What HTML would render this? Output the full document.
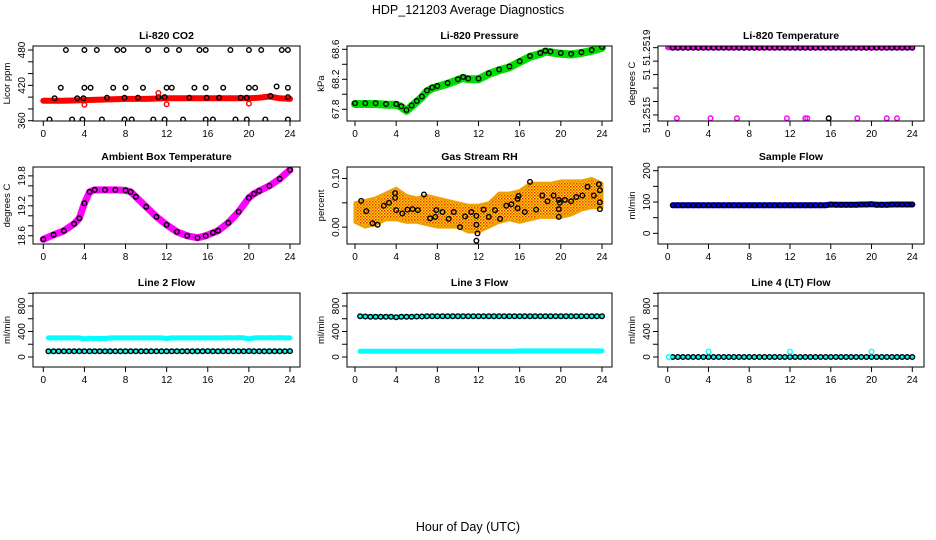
<!DOCTYPE html>
<html><head><meta charset="utf-8"><style>
html,body{margin:0;padding:0;background:#fff;}
svg{display:block;font-family:"Liberation Sans",sans-serif;}
</style></head><body>
<svg id="chart" width="936" height="540" viewBox="0 0 936 540" xmlns="http://www.w3.org/2000/svg">
<defs>
<pattern id="rhpat" width="3" height="3" patternUnits="userSpaceOnUse">
<rect width="3" height="3" fill="#ffd800"/><rect width="1.5" height="1.5" fill="#e83010"/><rect x="1.5" y="1.5" width="1.5" height="1.5" fill="#f07010"/>
</pattern>
</defs>
<text x="468" y="14" text-anchor="middle" font-size="12.5">HDP_121203  Average Diagnostics</text>
<text x="468" y="531" text-anchor="middle" font-size="12.5">Hour of Day (UTC)</text>
</svg>
<script>
// ---- data ----
var hourTicks = [0,4,8,12,16,20,24];
var halfHours = [0.5,1,1.5,2,2.5,3,3.5,4,4.5,5,5.5,6,6.5,7,7.5,8,8.5,9,9.5,10,10.5,11,11.5,12,12.5,13,13.5,14,14.5,15,15.5,16,16.5,17,17.5,18,18.5,19,19.5,20,20.5,21,21.5,22,22.5,23,23.5,24];

var co2LineX = [0,2,4,6,8,10,12,14,16,18,20,21,22,23,24];
var co2LineY = [394,394,395,396,397,397,398,398,398,398,398,399,401,398,397];
var co2BlackX = [2.2,4,5.2,7.2,7.8,10.2,12,13.2,15.2,15.8,18.2,20,21.2,23.2,23.8, 1.7,4,4.6,6.8,8,9.7,12,12.5,14.7,15.8,17.5,20,20.6,22.7,23.8, 1.1,3.3,3.9,6.2,7.9,9.2,11.2,11.8,14.2,15.9,17.1,19.2,19.8,22.1,23.8, 0.6,2.8,3.8,5.7,7.9,8.6,10.7,11.8,13.6,15.8,16.5,18.7,19.8,21.6,23.8];
var co2BlackY = [480,480,480,480,480,480,480,480,480,480,480,480,480,480,480, 416,416,416,416,416,416,416,416,416,416,416,416,416,418,416, 398,398,398,399,399,399,400,400,399,399,399,399,399,402,400, 362,362,362,362,362,362,362,362,362,362,362,362,362,362,362];
var co2RedX = [4,11.2,12,20];
var co2RedY = [387,407,388,389];

var presX = [0,1,2,3,4,4.5,5,5.5,6,6.5,7,7.5,8,9,10,10.5,11,12,13,14,15,16,17,18,18.5,19,20,21,22,23,24];
var presY = [67.87,67.87,67.87,67.86,67.86,67.83,67.78,67.84,67.9,67.96,68.04,68.08,68.1,68.14,68.19,68.22,68.2,68.2,68.27,68.32,68.36,68.43,68.5,68.54,68.57,68.56,68.54,68.53,68.55,68.58,68.62];

var tempTopY = [51.2519,51.2519,51.2519,51.2519,51.2519,51.2519,51.2519,51.2519,51.2519,51.2519,51.2519,51.2519,51.2519,51.2519,51.2519,51.2519,51.2519,51.2519,51.2519,51.2519,51.2519,51.2519,51.2519,51.2519,51.2519,51.2519,51.2519,51.2519,51.2519,51.2519,51.2519,51.2519,51.2519,51.2519,51.2519,51.2519,51.2519,51.2519,51.2519,51.2519,51.2519,51.2519,51.2519,51.2519,51.2519,51.2519,51.2519,51.2519];
var tempLowMagX = [0.9,4.2,6.8,11.7,13.5,13.7,18.6,21.5,22.5];
var tempLowBlackX = [15.8];
var tempLowVal = 51.25148;

var ambX = [0,1,2,3,3.5,4,4.5,5,6,7,8,8.5,9,10,11,12,13,14,15,15.8,16.5,17,18,19,20,20.5,21,22,23,24];
var ambY = [18.53,18.62,18.7,18.84,18.95,19.25,19.48,19.52,19.52,19.52,19.51,19.48,19.38,19.18,18.98,18.82,18.68,18.6,18.56,18.6,18.66,18.7,18.86,19.08,19.36,19.44,19.5,19.6,19.74,19.92];

var rhBandX = [0,1,2,3,4,5,6,7,8,9,10,11,12,13,14,15,16,17,18,19,20,21,22,23,24];
var rhUpper = [0.05,0.055,0.06,0.07,0.08,0.065,0.06,0.065,0.06,0.055,0.05,0.045,0.045,0.05,0.07,0.07,0.075,0.09,0.09,0.09,0.095,0.095,0.095,0.1,0.09];
var rhLower = [0.01,0.0,0.005,0.015,0.015,0.01,0.01,0.005,0.0,0.0,0.0,-0.01,-0.01,0.0,0.01,0.015,0.01,0.015,0.02,0.02,0.02,0.025,0.035,0.04,0.04];
var rhBlackX = [0.6,1.1,1.7,2.2,2.8,3.3,3.9,3.9,4,4.6,5.1,5.6,6.1,6.7,7.3,7.8,7.9,8.5,9.1,9.6,10.2,10.7,11.3,11.8,11.8,11.9,11.8,12.5,13,13.6,14.1,14.7,15.2,15.8,15.9,15.8,16.5,17,17.6,18.2,18.7,19.3,19.8,19.9,19.8,19.8,20.4,21,21.5,22.1,22.6,23.2,23.7,23.8,23.8,23.8];
var rhBlackY = [0.054,0.033,0.008,0.005,0.044,0.05,0.07,0.06,0.035,0.028,0.036,0.037,0.035,0.067,0.018,0.021,0.035,0.031,0.017,0.031,0.0,0.022,0.031,0.005,0.023,-0.013,-0.028,0.036,0.021,0.035,0.017,0.044,0.047,0.058,0.064,0.039,0.031,0.093,0.036,0.065,0.053,0.065,0.056,0.05,0.037,0.021,0.056,0.053,0.062,0.065,0.083,0.065,0.088,0.076,0.051,0.037];

var sampleY = [90,90,90,90,90,90,90,90,90,90,90,90,90,90,90,90,90,90,90,90,90,90,90,90,90,90,90,90,90,90,90,92,91,91,91,91,91,92,92,93,91,91,91,92,92,92,92,92];
var line2Hi = [300,300,300,300,300,300,300,285,295,290,290,292,300,300,300,300,300,300,300,300,300,300,300,290,300,300,300,300,300,300,300,300,300,300,300,305,300,305,300,285,300,305,300,305,300,305,300,300];
var line2Lo = [90,90,90,90,90,90,90,90,90,90,90,90,90,90,90,90,90,90,90,90,90,90,90,90,90,90,90,90,90,90,90,92,90,90,90,90,90,90,90,92,90,90,90,90,90,90,90,92];
var line3Hi = [640,635,630,630,630,630,630,625,630,630,630,635,635,640,640,640,640,640,640,640,640,640,640,640,640,640,640,640,640,640,640,640,640,640,640,640,640,640,640,640,640,640,640,640,640,640,640,640];
var line3Lo = [90,90,90,90,90,90,90,90,90,90,90,90,90,90,90,90,90,90,90,90,90,90,90,90,90,90,90,90,90,90,90,95,95,95,95,95,95,95,95,95,95,95,95,95,95,95,95,95];
var line4Y = [0,0,0,0,0,0,0,0,0,0,0,0,0,0,0,0,0,0,0,0,0,0,0,0,0,0,0,0,0,0,0,0,0,0,0,0,0,0,0,0,0,0,0,0,0,0,0,0];
var line4CyanX = [4,12,20];
var line4CyanY = [85,85,85];

// ---- drawing ----
var NS = "http://www.w3.org/2000/svg";
var svg = document.getElementById('chart');
function mk(tag, attrs, parent) {
  var e = document.createElementNS(NS, tag);
  for (var k in attrs) e.setAttribute(k, attrs[k]);
  (parent || svg).appendChild(e);
  return e;
}
var cols = [{L:33,R:300,x0:43.3,x24:290},{L:347,R:612,x0:355,x24:602},{L:658,R:924,x0:667.7,x24:912.3}];
var rows = [{T:46,B:121},{T:167,B:244},{T:293,B:367}];

function panel(name, c, r, title, ytitle, ymin, ymax, ticks, labels) {
  var C = cols[c], R = rows[r];
  var g = mk('g', {});
  
  
  var p = {g:g,
    x: function(h){ return C.x0 + (C.x24 - C.x0) * h / 24; },
    y: function(v){ return R.B - (R.B - R.T) * (v - ymin) / (ymax - ymin); }};
  var t = mk('text', {x:(C.L+C.R)/2, y:R.T-7, 'text-anchor':'middle', 'font-size':'10.5', 'font-weight':'bold'}, g);
  t.textContent = title;
  
  
  var yt = mk('text', {x:0, y:0, 'text-anchor':'middle', 'font-size':'9.5', transform:'translate(' + (C.L-23) + ',' + ((R.T+R.B)/2) + ') rotate(-90)'}, g);
  yt.textContent = ytitle;
  
  
  var ax = mk('g', {stroke:'#000', 'stroke-width':'1'}, g);
  
  
  mk('line', {x1:p.x(0), x2:p.x(24), y1:R.B, y2:R.B}, ax);
  hourTicks.forEach(function(h){
    mk('line', {x1:p.x(h), x2:p.x(h), y1:R.B, y2:R.B+5}, ax);
    var l = mk('text', {x:p.x(h), y:R.B+16, 'text-anchor':'middle', 'font-size':'10', stroke:'none'}, ax);
    l.textContent = h;
  });
  var ay = mk('g', {stroke:'#000', 'stroke-width':'1'}, g);
  
  
  ticks.forEach(function(v, i){
    var yy = p.y(v);
    mk('line', {x1:C.L-5, x2:C.L, y1:yy, y2:yy}, ay);
    if (labels[i]) {
      var l = mk('text', {x:0, y:0, 'text-anchor':'middle', 'font-size':'10', stroke:'none', transform:'translate(' + (C.L-8) + ',' + yy + ') rotate(-90)'}, ay);
      l.textContent = labels[i];
    }
  });
  p.marks = mk('g', {}, g);
  
  
  p.finish = function(){
    var b = mk('rect', {x:C.L, y:R.T, width:C.R-C.L, height:R.B-R.T, fill:'none', stroke:'#000', 'stroke-width':'1'}, g);
    
    
  };
  var cp = mk('clipPath', {id:'clip' + name}, g);
  mk('rect', {x:C.L, y:R.T, width:C.R-C.L, height:R.B-R.T}, cp);
  p.marks.setAttribute('clip-path', 'url(#clip' + name + ')');
  return p;
}
function line(p, xs, ys, color, w, nm) {
  var d = xs.map(function(x, i){ return (i ? 'L' : 'M') + p.x(x).toFixed(1) + ',' + p.y(ys[i]).toFixed(1); }).join('');
  var e = mk('path', {d:d, fill:'none', stroke:color, 'stroke-width':w, 'stroke-linejoin':'round', 'stroke-linecap':'round'}, p.marks);
  
  
}
function pts(p, xs, ys, color, nm, r, sw) {
  var g = mk('g', {fill:'none', stroke:color, 'stroke-width':sw || 1.4}, p.marks);
  
  
  xs.forEach(function(x, i){ mk('circle', {cx:p.x(x).toFixed(1), cy:p.y(ys[i]).toFixed(1), r:r || 2.3}, g); });
}

// CO2
var p1 = panel('co2-panel', 0, 0, 'Li-820 CO2', 'Licor ppm', 359.5, 486.8, [360,380,400,420,440,460,480], ['360','','','420','','','480']);
line(p1, co2LineX, co2LineY, '#ff0000', 6, 'co2-red-series');
pts(p1, co2BlackX, co2BlackY, '#000', 'co2-black-points');
pts(p1, co2RedX, co2RedY, '#ff0000', 'co2-red-points');
p1.finish();

// Pressure
var p2 = panel('pressure-panel', 1, 0, 'Li-820 Pressure', 'kPa', 67.643, 68.644, [67.8,68.0,68.2,68.4,68.6], ['67.8','','68.2','','68.6']);
line(p2, presX, presY, '#00dd00', 8, 'pressure-green-series');
pts(p2, presX, presY.map(function(v){return v+0.01;}), '#000', 'pressure-black-points');
p2.finish();

// Li-820 temperature
var p3 = panel('li820-temp-panel', 2, 0, 'Li-820 Temperature', 'degrees C', 51.251464, 51.25191, [51.2519,51.25182,51.25174,51.25166,51.25158,51.2515], ['51.2519','','51','','','51.2515']);
line(p3, [0,24], [51.2519,51.2519], '#ff00ff', 5, 'li820-temp-magenta-series');
pts(p3, halfHours, tempTopY, '#000', 'li820-temp-black-points');
pts(p3, tempLowMagX, tempLowMagX.map(function(){return tempLowVal;}), '#ff00ff', 'li820-temp-magenta-points');
pts(p3, tempLowBlackX, tempLowBlackX.map(function(){return tempLowVal;}), '#000', 'li820-temp-low-black-points');
p3.finish();

// Ambient
var p4 = panel('ambient-temp-panel', 0, 1, 'Ambient Box Temperature', 'degrees C', 18.435, 19.978, [18.6,18.8,19.0,19.2,19.4,19.6,19.8], ['18.6','','','19.2','','','19.8']);
line(p4, ambX, ambY, '#ff00ff', 7, 'ambient-magenta-series');
pts(p4, ambX, ambY, '#000', 'ambient-black-points');
p4.finish();

// RH
var p5 = panel('rh-panel', 1, 1, 'Gas Stream RH', 'percent', -0.0347, 0.1236, [0,0.05,0.10], ['0.00','','0.10']);
(function(){
  var d = rhBandX.map(function(x, i){ return (i ? 'L' : 'M') + p5.x(x).toFixed(1) + ',' + p5.y(rhUpper[i]).toFixed(1); }).join('');
  for (var i = rhBandX.length - 1; i >= 0; i--) d += 'L' + p5.x(rhBandX[i]).toFixed(1) + ',' + p5.y(rhLower[i]).toFixed(1);
  var e = mk('path', {d:d + 'Z', fill:'url(#rhpat)', stroke:'#f0a000', 'stroke-width':'3', 'stroke-linejoin':'round'}, p5.marks);
  
  
})();
pts(p5, rhBlackX, rhBlackY, '#000', 'rh-black-points');
p5.finish();

// Sample flow
var p6 = panel('sample-flow-panel', 2, 1, 'Sample Flow', 'ml/min', -34, 211.8, [0,50,100,150,200], ['0','','100','','200']);
line(p6, halfHours, sampleY, '#0000ff', 6, 'sample-flow-blue-series');
pts(p6, halfHours, sampleY, '#000', 'sample-flow-black-points');
p6.finish();

// Line 2
var p7 = panel('line2-flow-panel', 0, 2, 'Line 2 Flow', 'ml/min', -157, 1004, [0,200,400,600,800,1000], ['0','','400','','800','']);
line(p7, halfHours, line2Hi, '#00ffff', 5, 'line2-cyan-high-series');
line(p7, halfHours, line2Lo, '#00ffff', 5, 'line2-cyan-low-series');
pts(p7, halfHours, line2Lo, '#000', 'line2-black-points');
p7.finish();

// Line 3
var p8 = panel('line3-flow-panel', 1, 2, 'Line 3 Flow', 'ml/min', -157, 1004, [0,200,400,600,800,1000], ['0','','400','','800','']);
line(p8, halfHours, line3Hi, '#00ffff', 5, 'line3-cyan-high-series');
line(p8, halfHours, line3Lo, '#00ffff', 5, 'line3-cyan-low-series');
pts(p8, halfHours, line3Hi, '#000', 'line3-black-points');
p8.finish();

// Line 4
var p9 = panel('line4-flow-panel', 2, 2, 'Line 4 (LT) Flow', 'ml/min', -157, 1004, [0,200,400,600,800,1000], ['0','','400','','800','']);
line(p9, halfHours, line4Y, '#00ffff', 4, 'line4-cyan-series');
pts(p9, halfHours, line4Y, '#000', 'line4-black-points');
pts(p9, line4CyanX, line4CyanY, '#00ffff', 'line4-cyan-points');
pts(p9, [0.1], [0], '#00ffff', 'line4-cyan-start-point');
p9.finish();
</script>
</body></html>
